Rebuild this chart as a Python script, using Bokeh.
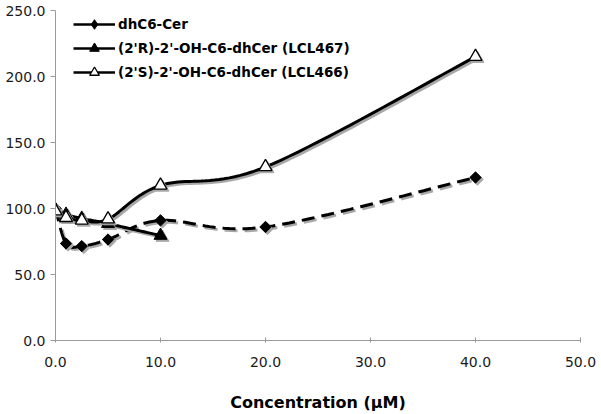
import numpy as np
from bokeh.plotting import figure
from bokeh.models import (ColumnDataSource, Legend, LegendItem, Range1d,
                          FixedTicker, CustomJSTickFormatter)
from bokeh.embed import file_html
from bokeh.resources import INLINE

# ---- data ----
x_dh = [0, 1, 2.5, 5, 10, 20, 40]
y_dh = [100, 73.5, 71.5, 76.5, 91, 86, 123.5]

x_r = [0, 1, 2.5, 5, 10]
y_r = [99, 95.5, 92.5, 88.5, 79.5]

x_s = [0, 1, 2.5, 5, 10, 20, 40]
y_s = [98, 93, 91, 92, 117.5, 131.5, 215]

names = ["dhC6-Cer", "(2'R)-2'-OH-C6-dhCer (LCL467)", "(2'S)-2'-OH-C6-dhCer (LCL466)"]
x_ticks = [0, 10, 20, 30, 40, 50]
y_ticks = [0, 50, 100, 150, 200, 250]

X_MAX, Y_MAX = 50, 250

# ---- layout ----
W, H = 601, 414
BL, BR, BT, BB = 55, 21, 10, 74
FW, FH = W - BL - BR, H - BT - BB


def smooth(xs, ys, n=24):
    """Excel-like smoothed line (Catmull-Rom style cubic Bezier through the points)."""
    P = np.column_stack([xs, ys]).astype(float)
    m = len(P)
    out = []
    for i in range(m - 1):
        p0 = P[i - 1] if i > 0 else P[i]
        p1, p2 = P[i], P[i + 1]
        p3 = P[i + 2] if i + 2 < m else P[i + 1]
        c1 = p1 + (p2 - p0) / 6.0
        c2 = p2 - (p3 - p1) / 6.0
        t = np.linspace(0, 1, n)[:, None]
        seg = ((1 - t) ** 3) * p1 + 3 * ((1 - t) ** 2) * t * c1 + 3 * (1 - t) * t ** 2 * c2 + t ** 3 * p2
        out.append(seg if i == 0 else seg[1:])
    a = np.vstack(out)
    return a[:, 0], a[:, 1]


p = figure(width=W, height=H, output_backend="svg", toolbar_location=None,
           x_range=Range1d(0, X_MAX), y_range=Range1d(0, Y_MAX),
           min_border_left=BL, min_border_right=BR, min_border_top=BT, min_border_bottom=BB)
p.outline_line_color = None
p.xgrid.grid_line_color = None
p.ygrid.grid_line_color = None
p.background_fill_color = "white"
p.border_fill_color = "white"

# shadow offsets (2px right, 2px down) expressed in data units
dx = 2.0 * X_MAX / FW
dy = -2.0 * Y_MAX / FH
SH = "#a8a8a8"

series = [
    (x_dh, y_dh, "dashed", "diamond"),
    (x_r, y_r, "solid", "tri_fill"),
    (x_s, y_s, "solid", "tri_open"),
]

items = []
for (xs, ys, dash, mk), name in zip(series, names):
    sx, sy = smooth(xs, ys)
    ld = "13 7" if dash == "dashed" else "solid"
    p.line(sx + dx, sy + dy, line_color=SH, line_width=3, line_dash=ld)
    p.line(sx, sy, line_color="black", line_width=3, line_dash=ld)
    src = ColumnDataSource(dict(x=xs, y=ys))
    sh_src = ColumnDataSource(dict(x=[v + dx for v in xs], y=[v + dy for v in ys]))
    if mk == "diamond":
        p.scatter("x", "y", source=sh_src, marker="square", angle=np.pi / 4, size=8,
                  fill_color=SH, line_color=SH)
        p.scatter("x", "y", source=src, marker="square", angle=np.pi / 4, size=8,
                  fill_color="black", line_color="black")
        # legend swatch: a diamond sitting inside the first plotted marker
        sc = p.scatter(x=xs[:1], y=ys[:1], marker="diamond", size=10,
                       fill_color="black", line_color="black")
    elif mk == "tri_fill":
        p.scatter("x", "y", source=sh_src, marker="triangle", size=13,
                  fill_color=SH, line_color=SH)
        sc = p.scatter("x", "y", source=src, marker="triangle", size=13,
                       fill_color="black", line_color="black")
    else:
        p.scatter("x", "y", source=sh_src, marker="triangle", size=13,
                  fill_color=SH, line_color=SH)
        sc = p.scatter("x", "y", source=src, marker="triangle", size=13,
                       fill_color="white", line_color="black", line_width=1.3)
    # one-point solid line: draws nothing on the plot, only its legend swatch
    leg_line = p.line(x=xs[:1], y=ys[:1], line_color="black", line_width=2.5)
    items.append(LegendItem(label=name, renderers=[leg_line, sc]))

legend = Legend(items=items, location=(18, 256), orientation="vertical",
                padding=0, margin=0, spacing=0,
                glyph_width=42, glyph_height=24, label_height=24, label_standoff=3,
                label_text_font="DejaVu Sans", label_text_font_style="bold",
                label_text_font_size="13.5px", label_text_color="black",
                border_line_color=None, background_fill_color="white",
                background_fill_alpha=1.0)
p.add_layout(legend, "center")

fmt = CustomJSTickFormatter(code="return tick.toFixed(1);")

xa = p.xaxis[0]
xa.ticker = FixedTicker(ticks=x_ticks)
xa.formatter = fmt
xa.axis_line_color = "#9a9a9a"
xa.major_tick_line_color = "#9a9a9a"
xa.major_tick_in = 3
xa.major_tick_out = 2
xa.minor_tick_line_color = None
xa.major_label_text_font = "DejaVu Sans"
xa.major_label_text_font_size = "14px"
xa.major_label_text_color = "#1a1a1a"
xa.major_label_standoff = 14
xa.axis_label = "Concentration (µM)"
xa.axis_label_text_font = "DejaVu Sans"
xa.axis_label_text_font_style = "bold"
xa.axis_label_text_font_size = "16px"
xa.axis_label_text_color = "black"
xa.axis_label_standoff = 23

ya = p.yaxis[0]
ya.ticker = FixedTicker(ticks=y_ticks)
ya.formatter = fmt
ya.axis_line_color = "#9a9a9a"
ya.major_tick_line_color = "#9a9a9a"
ya.major_tick_in = 0
ya.major_tick_out = 5
ya.minor_tick_line_color = None
ya.major_label_text_font = "DejaVu Sans"
ya.major_label_text_font_size = "14px"
ya.major_label_text_color = "#1a1a1a"
ya.major_label_standoff = 5

open("out.html", "w").write(file_html(p, INLINE))
